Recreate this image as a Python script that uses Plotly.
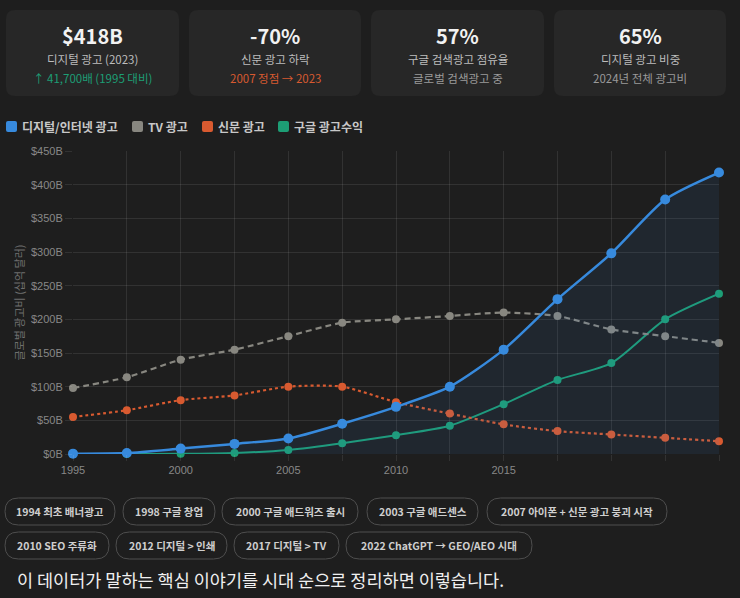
import plotly.graph_objects as go

# ---------------- data ----------------
years = ["1995", "1998", "2000", "2003", "2005", "2007", "2010", "2012", "2015", "2017", "2019", "2021", "2023"]
digital = [0.5, 1.5, 8, 15, 23, 45, 70, 100, 155, 230, 298, 378, 418]
tv = [98, 114, 140, 155, 175, 195, 200, 205, 210, 205, 185, 175, 165]
newspaper = [55, 65, 80, 87, 100, 100, 77, 60, 44, 34, 29, 24, 19]
google = [0, 0, 0.2, 1.5, 6, 16, 28, 42, 74, 110, 135, 200, 238]

series_names = ["디지털/인터넷 광고", "TV 광고", "신문 광고", "구글 광고수익"]
series_colors = ["#378ADD", "#888780", "#D85A30", "#1D9E75"]

event_years = ["2000", "2007", "2017"]

card_values = ["$418B", "-70%", "57%", "65%"]
card_labels = ["디지털 광고 (2023)", "신문 광고 하락", "구글 검색광고 점유율", "디지털 광고 비중"]
card_subs = ["↑ 41,700배 (1995 대비)", "2007 정점 → 2023", "글로벌 검색광고 중", "2024년 전체 광고비"]
card_sub_colors = ["#1D9E75", "#D85A30", "#9a9a9a", "#9a9a9a"]

milestones_row1 = ["1994 최초 배너광고", "1998 구글 창업", "2000 구글 애드워즈 출시", "2003 구글 애드센스", "2007 아이폰 + 신문 광고 붕괴 시작"]
milestones_row2 = ["2010 SEO 주류화", "2012 디지털 > 인쇄", "2017 디지털 > TV", "2022 ChatGPT → GEO/AEO 시대"]

footer_text = "이 데이터가 말하는 핵심 이야기를 시대 순으로 정리하면 이렇습니다."

# ---------------- layout geometry ----------------
W, H = 740, 598
L, R, T, B = 73, 21, 151, 144
PW, PH = W - L - R, H - T - B
BG = "#1e1e1e"
KR = "Noto Sans CJK KR"


def px(x):
    return (x - L) / PW


def py(y):
    return (H - B - y) / PH


def rrect(x0, y0, x1, y1, r):
    X0, X1 = px(x0), px(x1)
    Y0, Y1 = py(y0), py(y1)
    rx, ry = r / PW, r / PH
    return (f"M {X0+rx},{Y0} L {X1-rx},{Y0} Q {X1},{Y0} {X1},{Y0-ry} "
            f"L {X1},{Y1+ry} Q {X1},{Y1} {X1-rx},{Y1} L {X0+rx},{Y1} "
            f"Q {X0},{Y1} {X0},{Y1+ry} L {X0},{Y0-ry} Q {X0},{Y0} {X0+rx},{Y0} Z")


fig = go.Figure()

# drawn bottom-to-top: google, newspaper, tv, digital (digital on top)
fig.add_trace(go.Scatter(
    x=years, y=google, name=series_names[3], mode="lines+markers",
    line=dict(color=series_colors[3], width=2, shape="spline", smoothing=0.7),
    marker=dict(size=8, color=series_colors[3]), cliponaxis=False))
fig.add_trace(go.Scatter(
    x=years, y=newspaper, name=series_names[2], mode="lines+markers",
    line=dict(color=series_colors[2], width=2.2, dash="3px,3px", shape="spline", smoothing=0.7),
    marker=dict(size=8, color=series_colors[2]), cliponaxis=False))
fig.add_trace(go.Scatter(
    x=years, y=tv, name=series_names[1], mode="lines+markers",
    line=dict(color=series_colors[1], width=2.2, dash="6px,4px", shape="spline", smoothing=0.7),
    marker=dict(size=8, color=series_colors[1]), cliponaxis=False))
fig.add_trace(go.Scatter(
    x=years, y=digital, name=series_names[0], mode="lines+markers",
    line=dict(color=series_colors[0], width=2.5, shape="spline", smoothing=0.7),
    marker=dict(size=10, color=series_colors[0]),
    fill="tozeroy", fillcolor="rgba(55,138,221,0.09)", cliponaxis=False))

shapes = []
annotations = []

# event lines
for ey in event_years:
    shapes.append(dict(type="line", xref="x", yref="y", x0=ey, x1=ey, y0=0, y1=450,
                       line=dict(color="rgba(255,255,255,0.28)", width=1, dash="4px,3px"), layer="below"))

# cards
card_x = [(6, 179), (189, 361), (371, 544), (554, 726)]
for i, (x0, x1) in enumerate(card_x):
    shapes.append(dict(type="path", xref="paper", yref="paper", path=rrect(x0, 10, x1, 96, 9),
                       fillcolor="#272727", line=dict(width=0), layer="below"))
    cx = px((x0 + x1) / 2)
    annotations.append(dict(xref="paper", yref="paper", x=cx, y=py(36), text=f"<b>{card_values[i]}</b>",
                            showarrow=False, font=dict(family=KR, size=20, color="#f2f2f2"),
                            xanchor="center", yanchor="middle"))
    annotations.append(dict(xref="paper", yref="paper", x=cx, y=py(59), text=card_labels[i],
                            showarrow=False, font=dict(family=KR, size=11.5, color="#bdbdbd"),
                            xanchor="center", yanchor="middle"))
    annotations.append(dict(xref="paper", yref="paper", x=cx, y=py(78), text=card_subs[i],
                            showarrow=False, font=dict(family=KR, size=11.5, color=card_sub_colors[i]),
                            xanchor="center", yanchor="middle"))

# custom legend
leg_x = [6, 132, 202, 278]
for i, lx in enumerate(leg_x):
    shapes.append(dict(type="path", xref="paper", yref="paper", path=rrect(lx, 121, lx + 11, 132, 2),
                       fillcolor=series_colors[i], line=dict(width=0)))
    annotations.append(dict(xref="paper", yref="paper", x=px(lx + 14), y=py(126.5), text=f"<b>{series_names[i]}</b>",
                            showarrow=False, font=dict(family=KR, size=12, color="#c8c8c8"),
                            xanchor="left", yanchor="middle"))

# y-axis title
annotations.append(dict(xref="paper", yref="paper", x=px(18), y=0.5, text="글로벌 광고비 (십억 달러)",
                        textangle=-90, showarrow=False, font=dict(family=KR, size=11, color="#6e6e6e"),
                        xanchor="center", yanchor="middle"))

# milestone pills
row1_x = [(5, 115), (123, 215), (222, 358), (367, 478), (487, 667)]
row2_x = [(5, 109), (116, 227), (234, 339), (346, 532)]
for labels, xs, (y0, y1) in [(milestones_row1, row1_x, (498, 525)), (milestones_row2, row2_x, (532, 559))]:
    for lab, (x0, x1) in zip(labels, xs):
        shapes.append(dict(type="path", xref="paper", yref="paper", path=rrect(x0, y0, x1, y1, 13.5),
                           fillcolor="rgba(0,0,0,0)", line=dict(color="#4e4e4e", width=1)))
        annotations.append(dict(xref="paper", yref="paper", x=px((x0 + x1) / 2), y=py((y0 + y1) / 2),
                                text=f"<b>{lab}</b>", showarrow=False,
                                font=dict(family=KR, size=10.5, color="#cfcfcf"),
                                xanchor="center", yanchor="middle"))

# footer
annotations.append(dict(xref="paper", yref="paper", x=px(15), y=py(579), text=footer_text,
                        showarrow=False, font=dict(family=KR, size=17.5, color="#f0f0f0"),
                        xanchor="left", yanchor="middle"))

tick_text = [y if int(y) % 5 == 0 else "" for y in years]

fig.update_layout(
    width=W, height=H, margin=dict(l=L, r=R, t=T, b=B),
    paper_bgcolor=BG, plot_bgcolor=BG, showlegend=False,
    shapes=shapes, annotations=annotations,
    xaxis=dict(type="category", range=[0, len(years) - 1], tickmode="array", tickvals=years,
               ticktext=tick_text, showgrid=True, gridcolor="rgba(255,255,255,0.09)", gridwidth=1,
               zeroline=False, showline=False, ticks="outside", ticklen=6,
               tickcolor="rgba(255,255,255,0.09)",
               tickfont=dict(family="Liberation Sans", size=11, color="#888888")),
    yaxis=dict(range=[0, 450], dtick=50, tickprefix="$", ticksuffix="B", showgrid=True,
               gridcolor="rgba(255,255,255,0.09)", gridwidth=1, zeroline=False, showline=False,
               ticks="outside", ticklen=7, tickcolor="rgba(255,255,255,0.09)",
               tickfont=dict(family="Liberation Sans", size=11, color="#888888")),
)

fig.write_html("out.html")
